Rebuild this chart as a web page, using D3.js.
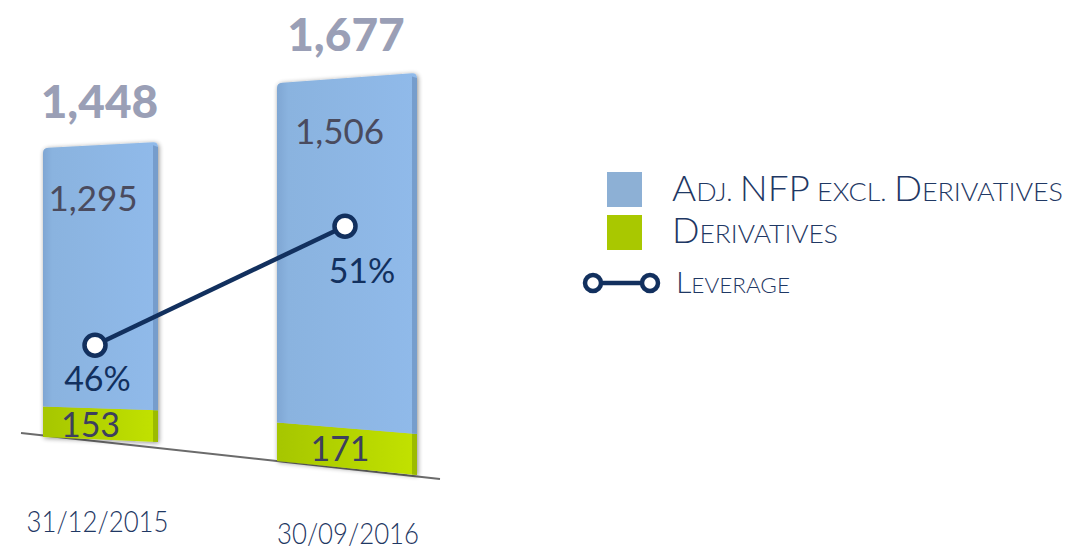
<!DOCTYPE html>
<html>
<head>
<meta charset="utf-8">
<script src="https://cdn.jsdelivr.net/npm/d3@7/dist/d3.min.js"></script>
<style>
  html, body { margin: 0; padding: 0; background: #ffffff; }
  svg { display: block; }
  text { font-family: "Lato", "Noto Sans", sans-serif; }
</style>
</head>
<body>
<svg id="chart" width="1072" height="550"></svg>
<script>
// ---------------- data ----------------
const categories = ["31/12/2015", "30/09/2016"];
const derivatives = [153, 171];
const adjNfp = [1295, 1506];
const totals = [1448, 1677];
const leverage = [46, 51];
const leverageLabels = ["46%", "51%"];
const seriesNames = ["Adj. NFP excl. Derivatives", "Derivatives", "Leverage"];

// ---------------- layout ----------------
const W = 1072, H = 550;
const svg = d3.select("#chart");
const navy = "#12305e";
const blue = "#8ab3df", blueDark = "#6d93c2", blueLeft = "#7fa6d3";
const green = "#afd000", greenLight = "#c2e202", greenDark = "#8fae00";

const defs = svg.append("defs");
const gBlue = defs.append("linearGradient").attr("id", "gBlue").attr("x1", 0).attr("x2", 1).attr("y1", 0).attr("y2", 0);
gBlue.append("stop").attr("offset", "0").attr("stop-color", blueLeft);
gBlue.append("stop").attr("offset", "0.08").attr("stop-color", blue);
gBlue.append("stop").attr("offset", "1").attr("stop-color", "#90baea");
const gGreen = defs.append("linearGradient").attr("id", "gGreen").attr("x1", 0).attr("x2", 1).attr("y1", 0).attr("y2", 0);
gGreen.append("stop").attr("offset", "0").attr("stop-color", "#a6c600");
gGreen.append("stop").attr("offset", "1").attr("stop-color", greenLight);
const shadow = defs.append("filter").attr("id", "shadow").attr("x", "-20%").attr("y", "-10%").attr("width", "140%").attr("height", "120%");
shadow.append("feGaussianBlur").attr("in", "SourceAlpha").attr("stdDeviation", 2.5).attr("result", "b");
shadow.append("feOffset").attr("in", "b").attr("dx", 1).attr("dy", 1).attr("result", "o");
shadow.append("feComponentTransfer").attr("in", "o").attr("result", "s")
  .append("feFuncA").attr("type", "linear").attr("slope", 0.45);
const fm = shadow.append("feMerge");
fm.append("feMergeNode").attr("in", "s");
fm.append("feMergeNode").attr("in", "SourceGraphic");

// x: bar centres, with perspective widening to the right
const x = d3.scalePoint().domain(categories).range([100.5, 347]);
const barWidth = d3.scaleLinear().domain([100.5, 347]).range([115, 140]);
// floor of the perspective plane (y of a bar's bottom at a given x)
const floorY = d3.scaleLinear().domain([43, 158, 277, 417]).range([437, 442, 461, 475]);
// pixels per unit of value, growing toward the viewer
const pxPerUnit = d3.scaleLinear().domain([43, 158, 277, 417]).range([0.1996, 0.2072, 0.2254, 0.2397]);
const yAt = (xp, v) => floorY(xp) - v * pxPerUnit(xp);
// leverage scale
const yLev = d3.scaleLinear().domain([40, 55]).range([488, 131]);
// category label baseline follows the tilted floor
const labelY = d3.scaleLinear().domain([97.5, 348]).range([532, 544]);

// ground line
svg.append("line")
  .attr("x1", 21).attr("y1", 433).attr("x2", 440).attr("y2", 479)
  .attr("stroke", "#6b6b6b").attr("stroke-width", 2);

// bars
const stacks = categories.map((c, i) => {
  const cx = x(c), w = barWidth(cx);
  return { c, i, cx, w, xl: cx - w / 2, xr: cx + w / 2,
    segs: [
      { v0: 0, v1: derivatives[i], fill: "url(#gGreen)", side: greenDark },
      { v0: derivatives[i], v1: derivatives[i] + adjNfp[i], fill: "url(#gBlue)", side: blueDark }
    ] };
});

const barG = svg.append("g");
stacks.forEach(s => {
  const g = barG.append("g").attr("filter", "url(#shadow)");
  const side = 5;
  s.segs.forEach((sg, j) => {
    const isTop = j === s.segs.length - 1;
    const pts = [
      [s.xl, yAt(s.xl, sg.v0)], [s.xr, yAt(s.xr, sg.v0)],
      [s.xr, yAt(s.xr, sg.v1)], [s.xl, yAt(s.xl, sg.v1)]
    ];
    let d;
    if (isTop) {
      const r = 5;
      d = `M${pts[0][0]},${pts[0][1]} L${pts[1][0]},${pts[1][1]} L${pts[2][0]},${pts[2][1] + r} Q${pts[2][0]},${pts[2][1]} ${pts[2][0] - r},${pts[2][1] + 0.3} L${pts[3][0] + r},${pts[3][1] - 0.3} Q${pts[3][0]},${pts[3][1]} ${pts[3][0]},${pts[3][1] + r} Z`;
    } else {
      d = "M" + pts.map(p => p.join(",")).join(" L") + " Z";
    }
    g.append("path").attr("d", d).attr("fill", sg.fill);
    // right side face
    const sd = [
      [s.xr - side, yAt(s.xr - side, sg.v0)], [s.xr, yAt(s.xr, sg.v0)],
      [s.xr, yAt(s.xr, sg.v1) + (isTop ? 5 : 0)], [s.xr - side, yAt(s.xr - side, sg.v1) + (isTop ? 3 : 0)]
    ];
    g.append("path").attr("d", "M" + sd.map(p => p.join(",")).join(" L") + " Z")
      .attr("fill", sg.side).attr("opacity", 0.75);
  });
});

// total labels above bars
svg.append("g").selectAll("text").data(stacks).join("text")
  .attr("x", s => s.cx - 1)
  .attr("y", s => yAt(s.cx, totals[s.i]) - 27)
  .attr("text-anchor", "middle")
  .attr("font-size", 46).attr("font-weight", 900)
  .attr("fill", "#9a9fb6")
  .text(s => d3.format(",")(totals[s.i]));

// adj NFP labels
svg.append("g").selectAll("text").data(stacks).join("text")
  .attr("x", s => s.cx - 7.5)
  .attr("y", s => yAt(s.cx, totals[s.i]) + 66)
  .attr("text-anchor", "middle")
  .attr("font-size", 35).attr("fill", "#4a4b5e")
  .text(s => d3.format(",")(adjNfp[s.i]));

// derivatives labels
svg.append("g").selectAll("text").data(stacks).join("text")
  .attr("x", s => s.cx - (s.i === 0 ? 10 : 7))
  .attr("y", s => (yAt(s.cx, 0) + yAt(s.cx, derivatives[s.i])) / 2 + 13)
  .attr("text-anchor", "middle")
  .attr("font-size", 34).attr("fill", "#3d3f5e")
  .text(s => derivatives[s.i]);

// leverage line
const levPts = categories.map((c, i) => [x(c) - (i === 0 ? 5.5 : 2), yLev(leverage[i])]);
svg.append("path")
  .attr("d", d3.line()(levPts))
  .attr("fill", "none").attr("stroke", navy).attr("stroke-width", 4.5);
svg.append("g").selectAll("circle").data(levPts).join("circle")
  .attr("cx", d => d[0]).attr("cy", d => d[1]).attr("r", 10.5)
  .attr("fill", "#ffffff").attr("stroke", navy).attr("stroke-width", 4.5);
const levOff = [[2.5, 46], [17, 57]];
svg.append("g").selectAll("text").data(levPts).join("text")
  .attr("x", (d, i) => d[0] + levOff[i][0])
  .attr("y", (d, i) => d[1] + levOff[i][1])
  .attr("text-anchor", "middle")
  .attr("font-size", 34).attr("fill", navy)
  .text((d, i) => leverageLabels[i]);

// category labels
svg.append("g").selectAll("text").data(categories).join("text")
  .attr("x", (c, i) => x(c) - (i === 0 ? 3 : -1))
  .attr("y", c => labelY(x(c) - 3))
  .attr("text-anchor", "middle")
  .attr("font-size", 30).attr("font-weight", 300).attr("fill", "#1f3864")
  .attr("textLength", 142).attr("lengthAdjust", "spacingAndGlyphs")
  .text(c => c);

// legend
const leg = svg.append("g");
leg.append("rect").attr("x", 607).attr("y", 172).attr("width", 35).attr("height", 35).attr("fill", "#8db0d5");
leg.append("rect").attr("x", 607).attr("y", 215).attr("width", 35).attr("height", 35).attr("fill", "#a9c800");
leg.append("line").attr("x1", 593).attr("y1", 283).attr("x2", 650).attr("y2", 283)
  .attr("stroke", navy).attr("stroke-width", 4.5);
leg.selectAll("circle.l").data([593, 650]).join("circle").attr("class", "l")
  .attr("cx", d => d).attr("cy", 283).attr("r", 8)
  .attr("fill", "#ffffff").attr("stroke", navy).attr("stroke-width", 4.5);

// small-caps text helper: uppercase letters large, lowercase as smaller capitals
function smallCaps(sel, str, big, small) {
  const parts = [];
  for (const ch of str) {
    const isLow = ch !== ch.toUpperCase() || ch === ".";
    const isUp = !isLow;
    const size = (ch === "." || ch === " ") ? small : (isUp ? big : small);
    const last = parts[parts.length - 1];
    if (last && last.size === size) last.t += ch.toUpperCase();
    else parts.push({ t: ch.toUpperCase(), size });
  }
  sel.selectAll("tspan").data(parts).join("tspan")
    .attr("font-size", d => d.size).text(d => d.t);
}
const legText = [
  { s: seriesNames[0], x: 672, y: 201, big: 35, small: 25.5, len: 391 },
  { s: seriesNames[1], x: 672, y: 243, big: 35, small: 25.5, len: 166 },
  { s: seriesNames[2], x: 676, y: 293, big: 29, small: 21.5, len: 114 }
];
legText.forEach(l => {
  const t = leg.append("text").attr("x", l.x).attr("y", l.y)
    .attr("fill", "#1f3864").attr("font-weight", 300)
    .attr("textLength", l.len).attr("lengthAdjust", "spacingAndGlyphs");
  smallCaps(t, l.s, l.big, l.small);
});
</script>
</body>
</html>
